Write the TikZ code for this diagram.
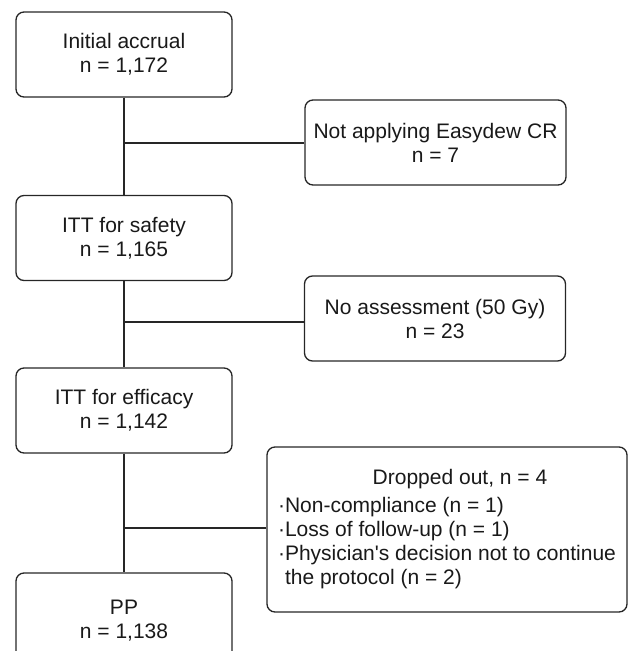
\documentclass[tikz,border=0pt]{standalone}
\usepackage{fontspec}
\setmainfont{Liberation Sans}

\begin{document}
\begin{tikzpicture}[x=0.75pt,y=-0.75pt,
  box/.style={draw=black!85,line width=1pt,rounded corners=6pt,inner sep=0pt,
    text=black!90,font=\fontsize{15.75}{18}\selectfont},
  stage/.style={box,align=center,minimum width=162pt,minimum height=63.75pt},
  lost/.style={box,align=center,minimum width=195.75pt,minimum height=63.75pt},
  link/.style={draw=black!85,line width=1pt}]
  \clip (0,0) rectangle (628,651);
  % main column
  \node[stage] (init) at (124,54.5) {Initial accrual\\n = 1,172};
  \node[stage] (safe) at (124,238) {ITT for safety\\n = 1,165};
  \node[stage] (eff) at (124,410.5) {ITT for efficacy\\n = 1,142};
  \node[stage,minimum height=72pt] (pp) at (124,621) {PP\\n = 1,138};
  % exclusions
  \node[lost] (excl1) at (435.5,142.5) {Not applying Easydew CR\\n = 7};
  \node[lost] (excl2) at (435,318.5) {No assessment (50 Gy)\\n = 23};
  \node[box,align=left,minimum width=270pt,minimum height=123.75pt] (drop) at (447,529.5)
    {\hspace*{71pt}Dropped out, n = 4\\[3pt]%
     ·Non-compliance (n = 1)\\%
     ·Loss of follow-up (n = 1)\\%
     ·Physician\textquotesingle s decision not to continue\\%
     \phantom{·}the protocol (n = 2)};
  % connectors
  \coordinate (j1) at (124,143);
  \coordinate (j2) at (124,322);
  \coordinate (j3) at (124,528);
  \draw[link] (init) -- (safe);
  \draw[link] (safe) -- (eff);
  \draw[link] (eff) -- (pp);
  \draw[link] (j1) -- (excl1.west |- j1);
  \draw[link] (j2) -- (excl2.west |- j2);
  \draw[link] (j3) -- (drop.west |- j3);
\end{tikzpicture}
\end{document}
